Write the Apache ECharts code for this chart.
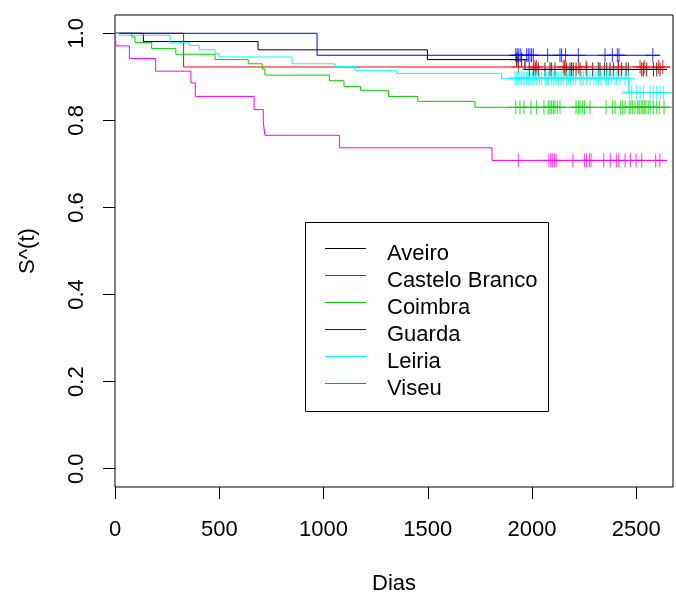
<!DOCTYPE html>
<html><head><meta charset="utf-8">
<script src="https://cdn.jsdelivr.net/npm/echarts@6/dist/echarts.min.js"></script>
<style>html,body{margin:0;padding:0;background:#fff}#c{width:676px;height:592px}</style>
</head><body><div id="c"></div>
<script>
const groups = ['Aveiro','Castelo Branco','Coimbra','Guarda','Leiria','Viseu'];
const colors = ['#000000','#FF0000','#00CD00','#0000FF','#00FFFF','#FF00FF'];
const xTicks = [0,500,1000,1500,2000,2500];
const yTicks = [0,0.2,0.4,0.6,0.8,1.0];

// Kaplan-Meier steps: event times and survival after each event
const aveiroT = [0,136,686,1498,1966];
const aveiroS = [1,0.981,0.962,0.9396,0.917];
const aveiroEnd = 2647;
const aveiroCens = [1926,1934,1950,1987,2006,2018,2030,2062,2086,2094,2110,2158,2166,2182,2190,2198,2211,2230,2262,2291,2318,2326,2347,2358,2374,2390,2414,2430,2451,2462,2526,2534,2550,2582,2598,2614];

const casteloT = [0,329];
const casteloS = [1,0.9226];
const casteloEnd = 2662;
const casteloCens = [1934,2014,2022,2150,2155,2222,2259,2414,2518,2538,2606,2627];

const coimbraT = [0,80,96,176,292,480,639,706,719,1028,1098,1178,1311,1452,1726];
const coimbraS = [1,0.9915,0.9786,0.9648,0.9518,0.9396,0.930,0.918,0.904,0.891,0.878,0.869,0.855,0.8438,0.830];
const coimbraEnd = 2670;
const coimbraCens = [1922,1942,1961,1995,2022,2057,2078,2086,2094,2102,2110,2121,2134,2211,2222,2230,2241,2251,2278,2355,2385,2398,2425,2435,2446,2466,2474,2483,2494,2507,2514,2523,2531,2538,2546,2557,2566,2581,2598,2610,2633];

const guardaT = [0,969];
const guardaS = [1,0.9495];
const guardaEnd = 2614;
const guardaCens = [1922,1929,1937,1946,1974,1982,1990,1998,2006,2075,2134,2142,2161,2222,2350,2385,2409,2417,2579];

const leiriaT = [0,19,264,356,404,480,499,849,1055,1151,1351,1854,2464];
const leiriaS = [1,0.9954,0.978,0.972,0.962,0.953,0.9456,0.930,0.9235,0.914,0.908,0.8966,0.864];
const leiriaEnd = 2670;
const leiriaCens = [1918,1926,1934,1942,1950,1958,1966,1974,1982,1990,2001,2014,2022,2035,2046,2062,2070,2078,2094,2102,2110,2118,2126,2134,2142,2150,2166,2174,2185,2198,2209,2230,2238,2246,2259,2265,2278,2297,2307,2318,2326,2334,2350,2358,2366,2382,2393,2406,2422,2446,2462,2467,2478,2502,2518,2534,2566,2582,2598,2614,2630];

const viseuT = [0,5,69,195,364,385,667,711,719,1076,1808];
const viseuS = [1,0.971,0.942,0.913,0.886,0.855,0.8247,0.7955,0.7657,0.737,0.708];
const viseuEnd = 2646;
const viseuCens = [1934,2081,2090,2097,2107,2115,2196,2251,2262,2275,2283,2344,2375,2404,2416,2446,2471,2499,2526,2593,2613];

const curves = [
  [aveiroT, aveiroS, aveiroEnd, aveiroCens],
  [casteloT, casteloS, casteloEnd, casteloCens],
  [coimbraT, coimbraS, coimbraEnd, coimbraCens],
  [guardaT, guardaS, guardaEnd, guardaCens],
  [leiriaT, leiriaS, leiriaEnd, leiriaCens],
  [viseuT, viseuS, viseuEnd, viseuCens]
];

function levelAt(T, S, t) {
  let v = S[0];
  for (let i = 0; i < T.length; i++) { if (T[i] <= t) v = S[i]; }
  return v;
}

const FONT = 'Liberation Sans, Arial, Helvetica, sans-serif';
const series = [];
curves.forEach((c, i) => {
  const [T, S, end] = c;
  const data = T.map((t, k) => [t, S[k]]);
  data.push([end, S[S.length - 1]]);
  series.push({
    name: groups[i], type: 'line', step: 'end', data: data,
    showSymbol: false, symbol: 'none', silent: true,
    lineStyle: { color: colors[i], width: 1 }, itemStyle: { color: colors[i] },
    animation: false, z: 2 + i
  });
});
curves.forEach((c, i) => {
  const [T, S, end, cens] = c;
  series.push({
    name: groups[i] + ' (censura)', type: 'scatter', silent: true,
    data: cens.map(t => [t, levelAt(T, S, t)]),
    symbol: 'path://M0,1L2,1M1,0L1,2', symbolSize: 14,
    itemStyle: { color: 'transparent', borderColor: colors[i], borderWidth: 1 },
    animation: false, z: 2 + i
  });
});

// legend drawn as a boxed key (R-style)
const legRows = [248, 275, 302, 329, 356, 383];
const legendEls = [{
  type: 'rect', shape: { x: 305.5, y: 222.5, width: 243, height: 189 },
  style: { fill: '#fff', stroke: '#000', lineWidth: 1 }, z: 100
}];
groups.forEach((g, i) => {
  legendEls.push({ type: 'line', shape: { x1: 325, y1: legRows[i] + 0.5, x2: 366, y2: legRows[i] + 0.5 },
    style: { stroke: colors[i], lineWidth: 1 }, z: 101 });
  legendEls.push({ type: 'text', x: 387, y: legRows[i] + 6,
    style: { text: g, font: '22px ' + FONT, fill: '#000', textAlign: 'left', textVerticalAlign: 'middle' }, z: 101 });
});

const chart = echarts.init(document.getElementById('c'), null, { renderer: 'canvas' });
chart.setOption({
  backgroundColor: '#fff',
  animation: false,
  grid: { left: 115, top: 15, width: 558, height: 472, show: true, borderColor: '#000', borderWidth: 1,
    backgroundColor: 'transparent', containLabel: false, outerBoundsMode: 'none' },
  xAxis: {
    type: 'value', min: 0, max: 2676,
    name: 'Dias', nameLocation: 'middle', nameGap: 86,
    nameTextStyle: { fontSize: 22, fontFamily: FONT, color: '#000' },
    axisLine: { show: false, onZero: false },
    axisTick: { show: true, length: 12, inside: false, lineStyle: { color: '#000', width: 1 }, customValues: xTicks },
    axisLabel: { fontSize: 22, fontFamily: FONT, color: '#000', margin: 32, customValues: xTicks, formatter: v => String(v) },
    splitLine: { show: false }
  },
  yAxis: {
    type: 'value', min: -0.042, max: 1.042,
    name: 'S^(t)', nameLocation: 'middle', nameGap: 76, nameRotate: 90,
    nameTextStyle: { fontSize: 22, fontFamily: FONT, color: '#000' },
    axisLine: { show: false, onZero: false },
    axisTick: { show: true, length: 12, inside: false, lineStyle: { color: '#000', width: 1 }, customValues: yTicks },
    axisLabel: { fontSize: 22, fontFamily: FONT, color: '#000', margin: 27, rotate: 90, customValues: yTicks,
      formatter: v => v.toFixed(1) },
    splitLine: { show: false }
  },
  graphic: { elements: legendEls },
  series: series
});
</script></body></html>
